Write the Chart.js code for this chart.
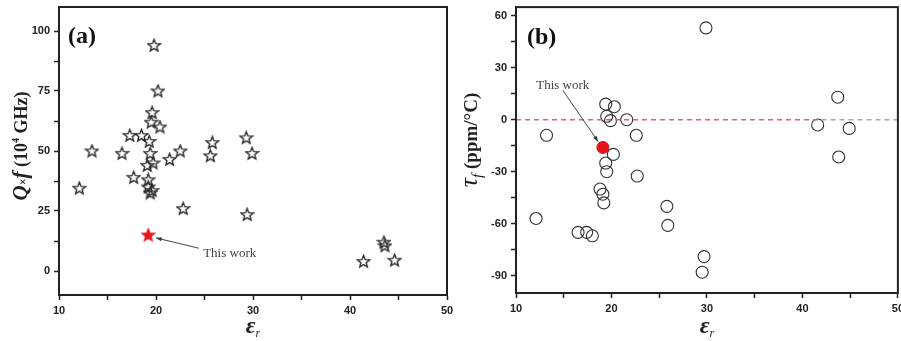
<!DOCTYPE html>
<html>
<head>
<meta charset="utf-8">
<script src="https://cdn.jsdelivr.net/npm/chart.js@4.4.0/dist/chart.umd.min.js"></script>
<style>
  html, body { margin: 0; padding: 0; background: #fff; }
  #wrap { position: relative; width: 901px; height: 341px; overflow: hidden; }
  canvas { position: absolute; top: 0; }
</style>
</head>
<body>
<div id="wrap">
  <canvas id="chartA" width="460" height="341" style="left:0"></canvas>
  <canvas id="chartB" width="448" height="341" style="left:460px"></canvas>
</div>
<script>
// (a) Q x f against permittivity, reported ceramics
const epsA = [12.1, 13.4, 16.5, 17.3, 18.5, 17.7, 19.2, 19.2, 19.4, 19.6, 19.3, 19.4, 19.6, 19.5, 20.4, 19.8,
              20.2, 19.7, 19.1, 21.4, 22.5, 22.8, 25.8, 25.6, 29.3, 29.9, 29.4, 41.4, 43.5, 43.6, 44.6];
const qfA  = [34.5, 50, 49, 56.5, 56.5, 39, 38, 35, 32.5, 33.5, 54, 49, 66, 62, 60, 94,
              75, 45, 44, 46.5, 50, 26, 53.5, 48, 55.5, 49, 23.5, 4, 12, 10.5, 4.5];
const epsThisA = [19.2];
const qfThis   = [15];

// (b) tau_f against permittivity
const epsB = [12.1, 13.2, 16.5, 17.4, 18.0, 18.8, 19.1, 19.2, 19.4, 20.3, 19.5, 19.9, 21.6, 22.6, 20.2, 19.4,
              19.5, 22.7, 25.8, 25.9, 29.9, 29.7, 29.5, 41.6, 43.7, 44.9, 43.8];
const tauB = [-57, -9, -65, -65, -67, -40, -43, -48, 9, 7.5, 2, -0.5, 0, -9, -20, -25,
              -30, -32.5, -50, -61, 53, -79, -88, -3, 13, -5, -21.5];
const epsThisB = [19.1];
const tauThis  = [-16];

// zero reference line in (b): red part then grey part
const zeroLineX = [10, 42, 50];

// ticks
const xTicks  = [10, 15, 20, 25, 30, 35, 40, 45, 50];
const xLabels = [10, 20, 30, 40, 50];
const yTicksA  = [0, 12.5, 25, 37.5, 50, 62.5, 75, 87.5, 100];
const yLabelsA = [0, 25, 50, 75, 100];
const yTicksB  = [-90, -75, -60, -45, -30, -15, 0, 15, 30, 45, 60];
const yLabelsB = [-90, -60, -30, 0, 30, 60];

const SERIF = '"Liberation Serif", "Times New Roman", serif';
const SANS = '"Liberation Sans", Arial, sans-serif';
const INK = '#222';

function starImg(fill, stroke) {
  const c = document.createElement('canvas');
  c.width = 15; c.height = 15;
  const g = c.getContext('2d');
  g.beginPath();
  for (let i = 0; i < 10; i++) {
    const r = i % 2 ? 2.8 : 6.4;
    const a = -Math.PI / 2 + i * Math.PI / 5;
    const px = 7.5 + r * Math.cos(a), py = 7.9 + r * Math.sin(a);
    if (i) g.lineTo(px, py); else g.moveTo(px, py);
  }
  g.closePath();
  if (fill) { g.fillStyle = fill; g.fill(); }
  g.strokeStyle = stroke;
  g.lineWidth = 1.4;
  g.stroke();
  return c;
}

function pts(xs, ys) {
  return xs.map((x, i) => ({ x: x, y: ys[i] }));
}

// draw text made of several runs (italic / sub / sup), centred on x,y
function drawRuns(ctx, runs, x, y, rotate) {
  ctx.save();
  ctx.translate(x, y);
  if (rotate) ctx.rotate(-Math.PI / 2);
  ctx.textBaseline = 'alphabetic';
  ctx.textAlign = 'left';
  let total = 0;
  runs.forEach(r => { ctx.font = r.font; total += ctx.measureText(r.t).width; });
  let cx = -total / 2;
  runs.forEach(r => {
    ctx.font = r.font;
    ctx.fillStyle = r.color || INK;
    ctx.fillText(r.t, cx, 6 + (r.dy || 0));
    cx += ctx.measureText(r.t).width;
  });
  ctx.restore();
}

function decoPlugin(cfg) {
  return {
    id: 'deco',
    afterDraw(chart) {
      const { ctx, chartArea: a, scales } = chart;
      ctx.save();
      // box frame
      ctx.strokeStyle = INK;
      ctx.lineWidth = 2;
      ctx.strokeRect(a.left, a.top, a.right - a.left, a.bottom - a.top);

      // panel label
      ctx.font = 'bold 24px ' + SERIF;
      ctx.fillStyle = '#111';
      ctx.textBaseline = 'middle';
      ctx.fillText(cfg.panel, cfg.panelX, cfg.panelY);

      drawRuns(ctx, cfg.yTitle, cfg.yTitleX, cfg.yTitleY, true);
      drawRuns(ctx, cfg.xTitle, (a.left + a.right) / 2, cfg.xTitleY, false);

      // "This work" note with arrow
      const n = cfg.note;
      const sx = scales.x, sy = scales.y;
      ctx.font = '13px ' + SERIF;
      ctx.fillStyle = '#444';
      ctx.textAlign = 'center';
      ctx.fillText('This work', sx.getPixelForValue(n.tx), sy.getPixelForValue(n.ty));
      const x0 = sx.getPixelForValue(n.ax0), y0 = sy.getPixelForValue(n.ay0);
      const x1 = sx.getPixelForValue(n.ax1), y1 = sy.getPixelForValue(n.ay1);
      ctx.strokeStyle = '#444';
      ctx.lineWidth = 1;
      ctx.beginPath();
      ctx.moveTo(x0, y0);
      ctx.lineTo(x1, y1);
      ctx.stroke();
      const ang = Math.atan2(y1 - y0, x1 - x0);
      ctx.beginPath();
      ctx.moveTo(x1, y1);
      ctx.lineTo(x1 - 6 * Math.cos(ang - 0.35), y1 - 6 * Math.sin(ang - 0.35));
      ctx.lineTo(x1 - 6 * Math.cos(ang + 0.35), y1 - 6 * Math.sin(ang + 0.35));
      ctx.closePath();
      ctx.fillStyle = '#333';
      ctx.fill();
      ctx.restore();
    }
  };
}

function axisOpts(ticks, labels, extra) {
  return Object.assign({
    type: 'linear',
    afterBuildTicks: (s) => { s.ticks = ticks.map(v => ({ value: v })); },
    ticks: {
      autoSkip: false,
      padding: 4,
      color: INK,
      font: { family: SANS, size: 11, weight: 'bold' },
      callback: (v) => labels.includes(v) ? String(v) : ''
    },
    grid: { drawOnChartArea: false, drawTicks: true, tickLength: 5, tickWidth: 1.5, tickColor: INK },
    border: { display: true, width: 2, color: INK }
  }, extra);
}

function makePanel(id, o) {
  return new Chart(document.getElementById(id), {
    type: 'scatter',
    data: { datasets: o.datasets },
    options: {
      responsive: false,
      animation: false,
      layout: { padding: { top: 6, right: o.padRight, left: 0, bottom: 0 } },
      plugins: { legend: { display: false }, tooltip: { enabled: false } },
      scales: {
        x: axisOpts(xTicks, xLabels, {
          min: 10, max: 50,
          afterFit: (s) => { s.height = o.xHeight; }
        }),
        y: axisOpts(o.yTicks, o.yLabels, {
          min: o.yMin, max: o.yMax,
          afterFit: (s) => { s.width = o.yWidth; s.paddingTop = 0; s.paddingBottom = 0; }
        })
      }
    },
    plugins: [decoPlugin(o.deco)]
  });
}

makePanel('chartA', {
  padRight: 13, xHeight: 46, yWidth: 59,
  yMin: -10, yMax: 110, yTicks: yTicksA, yLabels: yLabelsA,
  datasets: [
    { data: pts(epsA, qfA), pointStyle: starImg(null, '#2a2a2a'), pointRadius: 6 },
    { data: pts(epsThisA, qfThis), pointStyle: starImg('#e8141c', '#e8141c'), pointRadius: 6 }
  ],
  deco: {
    panel: '(a)', panelX: 68, panelY: 37,
    yTitle: [
      { t: 'Q', font: 'italic bold 21px ' + SERIF },
      { t: '\u00d7', font: 'bold 12px ' + SERIF },
      { t: 'f', font: 'italic bold 21px ' + SERIF },
      { t: ' (10', font: 'bold 18px ' + SERIF },
      { t: '4', font: 'bold 10px ' + SERIF, dy: -8 },
      { t: ' GHz)', font: 'bold 18px ' + SERIF }
    ],
    yTitleX: 21, yTitleY: 146,
    xTitle: [
      { t: '\u03b5', font: 'italic bold 24px ' + SERIF },
      { t: 'r', font: 'italic 12px ' + SERIF, dy: 4 }
    ],
    xTitleY: 327,
    note: { tx: 27.6, ty: 7.2, ax0: 24.4, ay0: 9.5, ax1: 20.0, ay1: 13.8 }
  }
});

makePanel('chartB', {
  padRight: 0, xHeight: 48, yWidth: 56,
  yMin: -100, yMax: 65, yTicks: yTicksB, yLabels: yLabelsB,
  datasets: [
    { type: 'line', data: pts(zeroLineX.slice(0, 2), [0, 0]), borderColor: '#e0606e', borderWidth: 1.3,
      borderDash: [5, 4], pointRadius: 0, showLine: true },
    { type: 'line', data: pts(zeroLineX.slice(1), [0, 0]), borderColor: '#a8a8a8', borderWidth: 1.3,
      borderDash: [5, 4], pointRadius: 0, showLine: true },
    { data: pts(epsB, tauB), pointStyle: 'circle', pointRadius: 6, borderColor: '#333', borderWidth: 1.1,
      backgroundColor: 'rgba(0,0,0,0)' },
    { data: pts(epsThisB, tauThis), pointStyle: 'circle', pointRadius: 6, borderColor: '#d81018', borderWidth: 1,
      backgroundColor: '#e8141c' }
  ],
  deco: {
    panel: '(b)', panelX: 67, panelY: 38,
    yTitle: [
      { t: '\u03c4', font: 'italic 26px ' + SERIF },
      { t: 'f', font: 'italic 15px ' + SERIF, dy: 5 },
      { t: ' (ppm/\u00b0C)', font: 'bold 19px ' + SERIF }
    ],
    yTitleX: 11, yTitleY: 140,
    xTitle: [
      { t: '\u03b5', font: 'italic bold 24px ' + SERIF },
      { t: 'r', font: 'italic 12px ' + SERIF, dy: 4 }
    ],
    xTitleY: 327,
    note: { tx: 14.9, ty: 19.5, ax0: 14.9, ay0: 17, ax1: 18.6, ay1: -12.6 }
  }
});
</script>
</body>
</html>
